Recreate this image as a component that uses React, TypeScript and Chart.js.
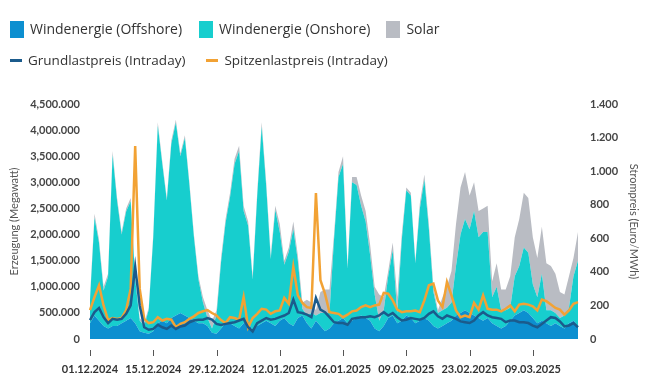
import React, { useEffect, useRef } from "react";
import { Chart, registerables } from "chart.js";

Chart.register(...registerables);

// values in thousand MW
const offshore = [300,450,350,250,200,250,250,300,350,400,300,150,120,100,150,300,350,300,400,450,500,450,400,350,300,300,250,120,100,200,300,300,250,200,300,350,150,250,300,350,300,250,350,400,300,250,400,450,300,200,350,250,150,200,300,350,400,300,350,400,450,400,350,200,150,250,400,450,300,350,450,400,300,350,400,350,250,200,250,300,350,450,500,550,500,450,400,350,400,300,250,200,250,350,450,500,550,500,400,300,350,300,250,300,250,200,300,350,250];
const onshore = [450,1870,1490,680,990,3280,2390,1700,2090,2240,850,200,130,460,1800,3790,3000,2350,3340,3690,3000,3400,2550,1600,840,400,150,80,350,1270,1920,2420,3100,3400,2150,1820,990,2480,3770,2570,1230,2220,1700,1020,1370,1850,1100,130,150,300,100,250,350,300,1600,2750,2950,1050,2650,2550,2100,1850,1250,650,200,300,800,1250,200,1550,2400,2350,1150,2150,2650,1750,650,300,300,300,350,950,1500,1750,1600,2000,1550,1700,1650,500,750,350,300,250,750,900,1200,1150,650,500,900,250,300,200,150,250,300,850,1250];
const solar = [50,80,60,70,60,70,60,50,60,60,50,50,50,40,50,60,50,50,60,60,50,50,50,50,60,100,150,150,100,80,80,80,100,100,100,80,60,70,80,80,70,80,150,80,80,150,100,120,300,200,100,400,450,450,100,100,150,50,100,150,200,200,200,150,500,250,100,150,300,100,50,50,50,100,100,100,100,50,250,400,600,800,900,900,650,550,500,450,500,300,450,400,400,600,750,900,1050,1050,900,750,900,900,850,750,500,400,600,350,550];
const grundlast = [113,160,185,130,95,120,115,120,150,200,430,200,70,55,60,85,70,60,80,60,75,80,100,110,115,115,125,115,90,83,90,95,100,110,120,70,45,95,110,125,115,120,130,140,155,235,160,155,145,130,245,175,160,130,100,95,95,85,120,125,130,130,135,130,140,160,140,155,130,110,115,125,120,115,125,150,165,135,120,140,130,120,105,100,95,110,140,160,140,130,125,120,100,110,110,100,100,95,80,70,90,110,130,125,105,75,80,95,70];
const spitzenlast = [172,250,320,200,113,125,120,125,172,300,1150,300,120,95,100,130,110,120,115,70,90,100,120,135,155,165,172,155,140,113,95,130,125,115,250,70,125,150,180,175,150,165,170,245,210,430,260,215,190,185,870,350,270,160,155,150,130,145,165,170,190,200,190,200,205,275,270,230,175,160,165,165,170,160,230,320,330,230,190,340,260,170,130,140,130,215,175,260,180,175,175,165,180,200,165,205,210,205,195,170,235,225,205,185,175,145,170,210,220];

const xTickLabels = ["01.12.2024","15.12.2024","29.12.2024","12.01.2025","26.01.2025","09.02.2025","23.02.2025","09.03.2025"];

const START = Date.UTC(2024, 11, 1);
const dayLabels: string[] = offshore.map((_, i) => {
  const d = new Date(START + i * 86400000);
  const dd = String(d.getUTCDate()).padStart(2, "0");
  const mm = String(d.getUTCMonth() + 1).padStart(2, "0");
  return `${dd}.${mm}.${d.getUTCFullYear()}`;
});

const C_OFF = "#0c8fd0";
const C_ON = "#17cece";
const C_SOLAR = "#b9bcc3";
const C_GRUND = "#1b5b8c";
const C_SPITZE = "#f2a234";
const FONT = "Lato, 'Open Sans', sans-serif";
const LEGEND_FONT = "'Open Sans', Lato, sans-serif";

const fmtLeft = (v: number) => {
  if (v === 0) return "0";
  const th = Math.floor(v / 1000);
  const rest = v % 1000;
  const restStr = String(rest).padStart(3, "0");
  return th > 0 ? `${th},${restStr}.000` : `${rest}.000`;
};

const tickMarks = {
  id: "tickMarks",
  afterDraw(chart: any) {
    const x = chart.scales.x;
    const ctx = chart.ctx;
    const bottom = chart.chartArea.bottom;
    ctx.save();
    ctx.strokeStyle = "#555";
    ctx.lineWidth = 1;
    dayLabels.forEach((lab, i) => {
      if (xTickLabels.includes(lab)) {
        const px = Math.round(x.getPixelForValue(i)) + 0.5;
        ctx.beginPath();
        ctx.moveTo(px, bottom + 11);
        ctx.lineTo(px, bottom + 17);
        ctx.stroke();
      }
    });
    ctx.restore();
  },
};

export default function App() {
  const ref = useRef<HTMLCanvasElement>(null);
  useEffect(() => {
    if (!ref.current) return;
    const chart = new Chart(ref.current, {
      type: "line",
      data: {
        labels: dayLabels,
        datasets: [
          { label: "Grundlastpreis (Intraday)", data: grundlast, yAxisID: "y1", borderColor: C_GRUND, backgroundColor: C_GRUND, borderWidth: 2.5, pointRadius: 0, fill: false, tension: 0, order: 0 },
          { label: "Spitzenlastpreis (Intraday)", data: spitzenlast, yAxisID: "y1", borderColor: C_SPITZE, backgroundColor: C_SPITZE, borderWidth: 2.5, pointRadius: 0, fill: false, tension: 0, order: 0 },
          { label: "Windenergie (Offshore)", data: offshore, yAxisID: "y", borderWidth: 0, borderColor: C_OFF, backgroundColor: C_OFF, pointRadius: 0, fill: "origin", tension: 0, order: 1, stack: "e" },
          { label: "Windenergie (Onshore)", data: onshore, yAxisID: "y", borderWidth: 0, borderColor: C_ON, backgroundColor: C_ON, pointRadius: 0, fill: "-1", tension: 0, order: 1, stack: "e" },
          { label: "Solar", data: solar, yAxisID: "y", borderWidth: 0, borderColor: C_SOLAR, backgroundColor: C_SOLAR, pointRadius: 0, fill: "-1", tension: 0, order: 1, stack: "e" },
        ],
      },
      options: {
        animation: false,
        responsive: false,
        maintainAspectRatio: false,
        layout: { padding: { top: 104, left: 0, right: 0, bottom: 8 } },
        plugins: { legend: { display: false }, tooltip: { enabled: false } },
        scales: {
          x: {
            type: "category",
            offset: false,
            grid: { display: false, drawTicks: false },
            border: { display: false },
            afterFit: (s: any) => { s.height = 45; },
            ticks: {
              autoSkip: false,
              maxRotation: 0,
              padding: 24,
              color: "#333",
              font: { family: FONT, size: 11, weight: "bold" },
              callback: (_v: any, i: number) => (xTickLabels.includes(dayLabels[i]) ? dayLabels[i] : ""),
            },
          },
          y: {
            position: "left",
            stacked: true,
            min: 0,
            max: 4500,
            grid: { display: false, drawTicks: false },
            border: { display: false },
            afterFit: (s: any) => { s.width = 90; },
            ticks: { stepSize: 500, padding: 10, color: "#444", font: { family: FONT, size: 11, weight: "bold" }, callback: (v: any) => fmtLeft(Number(v)) },
            title: { display: true, text: "Erzeugung (Megawatt)", color: "#555", font: { family: FONT, size: 11 }, padding: { top: 8, bottom: 0 } },
          },
          y1: {
            position: "right",
            stacked: false,
            min: 0,
            max: 1400,
            grid: { display: false, drawTicks: false },
            border: { display: false },
            afterFit: (s: any) => { s.width = 72; },
            ticks: { stepSize: 200, padding: 12, color: "#444", font: { family: FONT, size: 11, weight: "bold" }, callback: (v: any) => Number(v).toLocaleString("de-DE") },
            title: { display: true, text: "Strompreis (Euro/MWh)", color: "#555", font: { family: FONT, size: 11 }, padding: { top: 10, bottom: 0 } },
          },
        },
      },
      plugins: [tickMarks],
    });
    return () => chart.destroy();
  }, []);

  const box = (c: string) => ({ display: "inline-block", width: 14, height: 17, background: c, marginRight: 6 });
  const dash = (c: string) => ({ display: "inline-block", width: 12, height: 3, background: c, marginRight: 6 });
  const txt = { fontFamily: LEGEND_FONT, color: "#333", whiteSpace: "nowrap" as const, lineHeight: "18px" };

  return (
    <div style={{ position: "fixed", left: 0, top: 0, width: 650, height: 392, background: "#fff" }}>
      <canvas ref={ref} width={650} height={392} style={{ position: "absolute", left: 0, top: 0 }} />
      <div style={{ position: "absolute", left: 10, top: 20, display: "flex", fontSize: 14, ...txt }}>
        <div style={{ display: "flex", alignItems: "center", marginRight: 17 }}><span style={box(C_OFF)} />Windenergie (Offshore)</div>
        <div style={{ display: "flex", alignItems: "center", marginRight: 16 }}><span style={box(C_ON)} />Windenergie (Onshore)</div>
        <div style={{ display: "flex", alignItems: "center" }}><span style={box(C_SOLAR)} />Solar</div>
      </div>
      <div style={{ position: "absolute", left: 10, top: 51, display: "flex", fontSize: 13.5, ...txt }}>
        <div style={{ display: "flex", alignItems: "center", marginRight: 21 }}><span style={dash(C_GRUND)} />Grundlastpreis (Intraday)</div>
        <div style={{ display: "flex", alignItems: "center" }}><span style={dash(C_SPITZE)} />Spitzenlastpreis (Intraday)</div>
      </div>
    </div>
  );
}
